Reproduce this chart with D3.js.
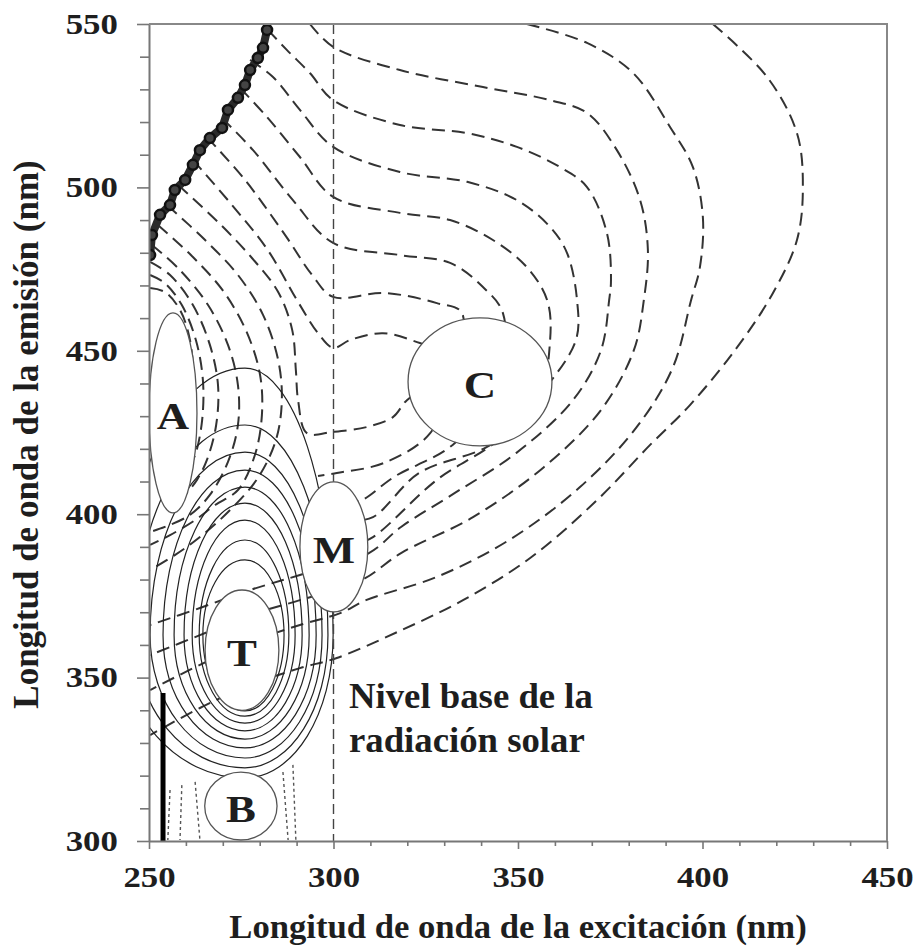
<!DOCTYPE html>
<html>
<head>
<meta charset="utf-8">
<script src="https://cdn.jsdelivr.net/npm/d3@7/dist/d3.min.js"></script>
<style>
body{margin:0;background:#fff;}
.chart text{font-family:'Liberation Serif','Times New Roman',serif;font-weight:bold;fill:#1e1e1e;}
.tick text{font-size:29px;}
</style>
</head>
<body>
<div class="chart"></div>
<script>
'use strict';
var margin={top:24, bottom:105, left:149, right:30};
var svg={w:917-margin.left-margin.right, h:946-margin.top-margin.bottom};

// ticks
var xTicks=[250,300,350,400,450];
var yTicks=[300,350,400,450,500,550];
var xMinor=[260,270,280,290,310,320,330,340,360,370,380,390,410,420,430,440];
var yMinor=[310,320,330,340,360,370,380,390,410,420,430,440,460,470,480,490,510,520,530,540];

// regions (ex, em centre and half widths in nm)
var peakNames=['A','C','M','T','B'];
var peakEx=[256.5,339.7,300.1,275.2,274.9];
var peakEm=[431,440.5,390,358.4,310.7];
var peakRx=[6.5,19.5,9.2,10,9.8];
var peakRy=[30.6,19.6,19.9,18.4,10.4];

// dashed contours [ex, em]
var dashedContours=[
 [[402.8,550],[417.5,533.8],[425.6,516.6],[427.2,500.1],[425.6,483.9],[418.8,467.1],[408.8,450.2],[396.6,433.4],[385.8,421.2],[371.4,404.3],[353.3,386.6],[335.1,373.7],[317.2,363.9],[300.9,356],[290.9,352.9],[277.4,347.7],[263.8,340.7],[250.3,332.4]],
 [[352.4,550],[368.7,544.2],[381.2,535],[391.2,518.5],[397.4,506.2],[400.1,490.9],[399.3,475.6],[396.9,465.5],[392,445],[382.2,426.7],[366.8,408.3],[347.6,392.1],[328,380.8],[308.8,373.7],[302,369.8],[290.9,366.1],[277.4,360.9],[263.8,353.9],[250.3,346.2]],
 [[293.6,550],[299.9,543],[318,535.9],[340.5,530.7],[358.7,526.7],[368.7,522.8],[376.8,511.4],[383.1,496.1],[385.2,480.8],[384.1,465.5],[381.4,450.2],[372.5,431.9],[357,414.4],[337.8,399.1],[318.3,388.1],[307.7,379.9],[290.9,373.7],[277.4,369.2],[263.8,363],[250.3,356.9]],
 [[282.2,548.2],[287.4,542],[293.6,535],[299.9,526.7],[318,519.1],[336.2,516.6],[349.7,512.4],[361.4,506.2],[368.7,500.1],[374.1,486],[375.2,471.7],[374.7,465.5],[372.5,450.2],[364.9,434.9],[349.5,418.7],[332.9,406.5],[318.3,396.1],[309.6,388.1],[290.9,381.4],[277.4,376.8],[263.8,371.3],[250.3,366.1]],
 [[277.4,539],[283.6,533.8],[290.9,523.7],[299.9,512.4],[318,504.7],[336.2,501.7],[349.7,496.1],[358.7,487.9],[363.3,479.9],[366,465.5],[365.7,453.3],[357,438],[344.6,422.7],[328,410.5],[310.7,393],[305,390.3]],
 [[274.7,530.4],[282,521.5],[290.9,509.3],[299.9,497.1],[318,492.2],[331.6,490],[343.2,483.9],[352.4,475.6],[357.9,465.5],[358.7,453.3],[354.6,431.9],[341.6,420.6],[323.2,412.6],[310.7,399.1],[304.5,397.9]],
 [[269.8,521.2],[278.2,511.4],[289,496.1],[299.9,483],[318,479.3],[331.6,476.9],[340.5,469.5],[345.9,461.6],[345.1,441.1],[332.9,421.8],[316.4,411.4],[307.7,404.3],[302.8,402.8]],
 [[265.7,515.4],[276,502.3],[286.9,485.4],[294.2,473.2],[299.9,466.5],[313.7,467.7],[328,464.6],[334.8,461.6],[331.6,441.1],[326.2,424.8],[313.7,415.7],[300.9,412.6],[295.8,411.7]],
 [[261.9,508.4],[272.5,494.6],[282.2,480.8],[290.1,465.5],[295.8,455.4],[299.9,450.9],[304.5,453.3],[313.4,455.4],[323.4,452.4],[330.2,449.6]],
 [[257.9,500.7],[268.7,489.4],[277.9,478.4],[285,468],[288.8,456.4],[289.8,444.1],[290.4,434.9],[292.8,424.8],[299.9,425.2],[309.1,426.7],[316.1,429.7],[319.9,434.9],[326.2,439.5]],
 [[254.9,494.6],[265.2,483.9],[274.1,473.2],[280.9,461],[285,447.2],[286,434.9],[284.4,422.7],[279.5,411.1],[272,401.3],[263.8,393],[257,387.5],[250.3,382.9]],
 [[252.4,488.5],[261.9,478.7],[270.3,468],[276.6,455.4],[280.1,442.6],[280.6,430.4],[278.7,418.1],[274.1,407.4],[267.9,402.8],[262.5,398.2],[255.7,393.6],[250.3,390.6]],
 [[250.8,482.4],[258.4,474.7],[266,464],[271.4,451.8],[274.1,439.5],[274.1,427.3],[271.4,416],[266.5,405.9],[261.1,399.8],[254.3,396.1],[250.3,394.6]],
 [[250.3,477.2],[255.7,473.2],[261.9,464],[266.5,451.8],[268.7,439.5],[268.2,427.3],[265.7,416.6],[263,410.5],[259.8,405.9]],
 [[250.3,473.2],[254.3,470.7],[258.9,464],[262.7,453.3],[264.6,441.1],[264.4,428.8],[262.5,418.1],[259.8,412]],
 [[250.3,469.2],[254.3,468],[258.4,462.5],[261.1,453.3],[261.9,441.1],[261.1,434.9]]
];

// solid contours round T: top, right, bottom, left extents
var ringCx=276, ringCy=363;
var ringTop=[444.7,427.3,419,413.5,408.3,403.4,398.2,392.1,386];
var ringRight=[299.9,298.5,296.9,295.3,293.4,291.5,289.6,287.9,286.6];
var ringBottom=[319.3,322.4,325.4,328.5,331.2,333.7,336.1,338.2,339.8];
var ringLeft=[242.1,246.2,250.3,253.8,256.8,259.5,261.7,263.6,264.6];

// short dotted contours either side of B
var bDots=[
 [[255.7,315.6],[255.1,300.3]],
 [[258.9,317.1],[258.4,300.3]],
 [[262.5,318.1],[263.8,300.3]],
 [[286.3,321.1],[287.7,300.3]],
 [[289,323.3],[289.8,300.3]]
];

// scatter band (top left) and thick line
var scatterLine=[[250.3,479.3],[250.8,485.4],[253,491.6],[255.7,494.6],[257,499.2],[259.8,502.3],[261.9,506.9],[263.8,511.4],[266.5,515.1],[269.8,518.2],[271.4,523.7],[274.1,527.4],[276,531.3],[277.4,535.9],[279.5,539.6],[280.9,542.7],[282,548.2]];
var thickLine=[[253.8,345.3],[253.8,300]];
var solarLine=[[300,550],[300,300]];

var chart=d3.select(".chart")
	.append("svg")
		.attr("width", svg.w+margin.left+margin.right)
		.attr("height", svg.h+margin.top+margin.bottom)
	.append("g")
		.attr("transform","translate("+margin.left+","+margin.top+")");

var x=d3.scaleLinear().domain([250,450]).range([0,svg.w]);
var y=d3.scaleLinear().domain([300,550]).range([svg.h,0]);

chart.append("clipPath").attr("id","plot")
	.append("rect").attr("width",svg.w).attr("height",svg.h);

var plot=chart.append("g").attr("clip-path","url(#plot)");

var line=d3.line()
	.x((d)=>x(d[0]))
	.y((d)=>y(d[1]))
	.curve(d3.curveCatmullRom.alpha(0.5));

plot.selectAll(".dash")
	.data(dashedContours)
	.enter().append("path")
		.attr("class","dash")
		.attr("d",line)
		.attr("fill","none")
		.attr("stroke","#333")
		.attr("stroke-width",2)
		.attr("stroke-dasharray","13,7");

function ringPath(i){
	var cx=x(ringCx), cy=y(ringCy), t=y(ringTop[i]), r=x(ringRight[i]), b=y(ringBottom[i]), l=x(ringLeft[i]);
	var k=0.5523, p=d3.path();
	p.moveTo(cx,t);
	p.bezierCurveTo(cx+(r-cx)*k,t, r,cy-(cy-t)*k, r,cy);
	p.bezierCurveTo(r,cy+(b-cy)*k, cx+(r-cx)*k,b, cx,b);
	p.bezierCurveTo(cx-(cx-l)*k,b, l,cy+(b-cy)*k, l,cy);
	p.bezierCurveTo(l,cy-(cy-t)*k, cx-(cx-l)*k,t, cx,t);
	p.closePath();
	return p.toString();
}

plot.selectAll(".ring")
	.data(ringTop.map((d,i)=>i))
	.enter().append("path")
		.attr("class","ring")
		.attr("d",ringPath)
		.attr("fill","none")
		.attr("stroke","#222")
		.attr("stroke-width",1.2);

plot.selectAll(".bdot")
	.data(bDots)
	.enter().append("path")
		.attr("d",line)
		.attr("fill","none")
		.attr("stroke","#555")
		.attr("stroke-width",1.4)
		.attr("stroke-dasharray","3,3");

plot.append("path")
	.attr("d",d3.line().x((d)=>x(d[0])).y((d)=>y(d[1]))(scatterLine))
	.attr("fill","none")
	.attr("stroke","#2a2a2a")
	.attr("stroke-width",8)
	.attr("stroke-linejoin","round");

plot.selectAll(".blob")
	.data(scatterLine)
	.enter().append("circle")
		.attr("cx",(d)=>x(d[0]))
		.attr("cy",(d)=>y(d[1]))
		.attr("r",5)
		.attr("fill","#444")
		.attr("stroke","#111")
		.attr("stroke-width",2.5);

plot.append("path")
	.attr("d",d3.line().x((d)=>x(d[0])).y((d)=>y(d[1]))(thickLine))
	.attr("stroke","#000")
	.attr("stroke-width",5);

plot.append("path")
	.attr("d",d3.line().x((d)=>x(d[0])).y((d)=>y(d[1]))(solarLine))
	.attr("stroke","#444")
	.attr("stroke-width",1.4)
	.attr("stroke-dasharray","10,5");

plot.selectAll(".peak")
	.data(peakNames)
	.enter().append("ellipse")
		.attr("class","peak")
		.attr("cx",(d,i)=>x(peakEx[i]))
		.attr("cy",(d,i)=>y(peakEm[i]))
		.attr("rx",(d,i)=>x(peakEx[i]+peakRx[i])-x(peakEx[i]))
		.attr("ry",(d,i)=>y(peakEm[i]-peakRy[i])-y(peakEm[i]))
		.attr("fill","#fff")
		.attr("stroke","#555")
		.attr("stroke-width",1.3);

chart.selectAll(".plabel")
	.data(peakNames)
	.enter().append("text")
		.attr("class","plabel")
		.attr("transform",(d,i)=>"translate("+x(peakEx[i])+","+(y(peakEm[i])+3)+") scale(1.18,1)")
		.attr("text-anchor","middle")
		.attr("dy","0.34em")
		.style("font-size","38px")
		.text((d)=>d);

// axes
var xAxis=d3.axisBottom(x).tickValues(xTicks).tickSize(8).tickSizeOuter(0).tickPadding(17);
var yAxis=d3.axisLeft(y).tickValues(yTicks).tickSize(12).tickSizeOuter(0).tickPadding(14);

var gx=chart.append("g").attr("transform","translate(0,"+svg.h+")").call(xAxis);
var gy=chart.append("g").call(yAxis);
chart.append("g").attr("transform","translate(0,"+svg.h+")")
	.call(d3.axisBottom(x).tickValues(xMinor).tickSize(5).tickFormat(""))
	.select(".domain").remove();
chart.append("g")
	.call(d3.axisLeft(y).tickValues(yMinor).tickSize(9).tickFormat(""))
	.select(".domain").remove();

chart.selectAll(".domain").attr("stroke","#777").attr("stroke-width",2);
chart.selectAll(".tick line").attr("stroke","#777").attr("stroke-width",1.6);
gx.selectAll("text").attr("transform","scale(1.2,1)");
gy.selectAll("text").attr("transform","scale(1.2,1)");

// frame top and right
chart.append("path")
	.attr("d","M0,0H"+svg.w+"V"+svg.h)
	.attr("fill","none")
	.attr("stroke","#888")
	.attr("stroke-width",2);

// titles
chart.append("text")
	.attr("transform","translate("+(svg.w/2)+","+(938-margin.top)+") scale(1.05,1)")
	.attr("text-anchor","middle")
	.style("font-size","33px")
	.text("Longitud de onda de la excitación (nm)");

chart.append("text")
	.attr("transform","translate("+(38-margin.left)+","+(svg.h/2+2)+") rotate(-90)")
	.attr("text-anchor","middle")
	.style("font-size","35px")
	.text("Longitud de onda de la emisión (nm)");

chart.append("text")
	.attr("transform","translate("+x(304.2)+","+y(340.7)+") scale(1.05,1)")
	.style("font-size","35px")
	.text("Nivel base de la");
chart.append("text")
	.attr("transform","translate("+x(304.2)+","+y(327.2)+") scale(1.05,1)")
	.style("font-size","35px")
	.text("radiación solar");
</script>
</body>
</html>
